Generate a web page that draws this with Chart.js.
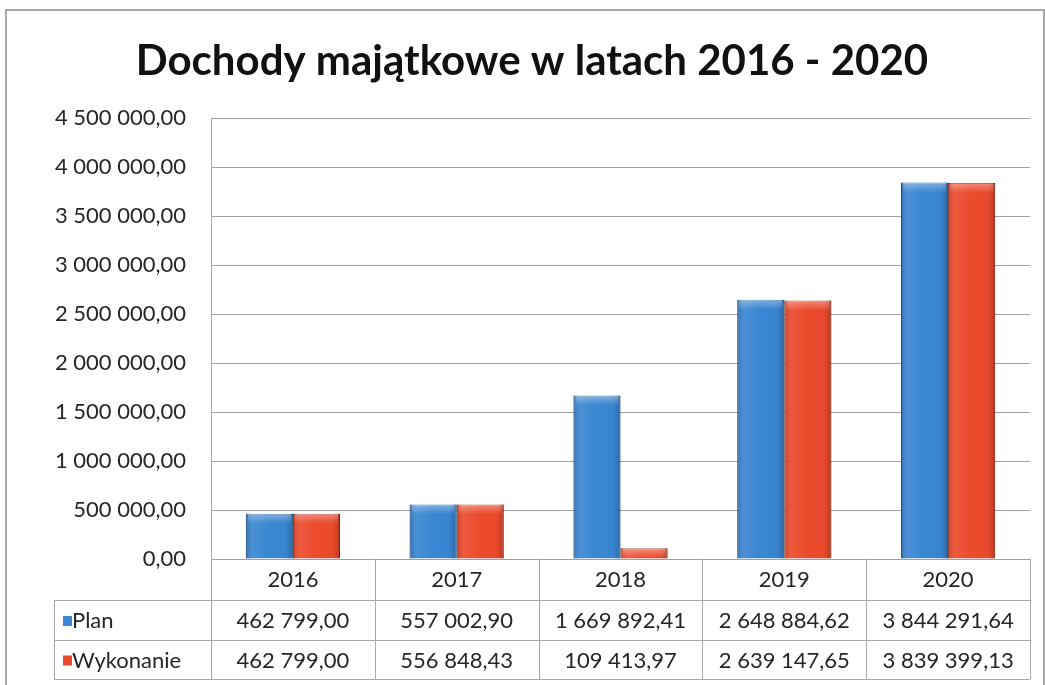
<!DOCTYPE html>
<html lang="pl">
<head>
    <meta charset="utf-8" />
    <title>Dochody majątkowe</title>
    <style>
        body {
            margin: 0;
            background: #fff;
        }
        #frame {
            position: absolute;
            left: 5px;
            top: 9px;
            width: 1040px;
            height: 690px;
            border: 2px solid #a8a8a8;
            box-sizing: border-box;
        }
        #wrap {
            position: absolute;
            left: 0;
            top: 0;
            width: 1045px;
            height: 685px;
        }
    </style>
</head>
<body>
    <div id="frame"></div>
    <div id="wrap">
        <canvas id="chart"></canvas>
    </div>
    <script src="https://cdn.jsdelivr.net/npm/chart.js"></script>
    <script>
        // data
        var years = ['2016', '2017', '2018', '2019', '2020'];
        var plan = [462799.00, 557002.90, 1669892.41, 2648884.62, 3844291.64];
        var wykonanie = [462799.00, 556848.43, 109413.97, 2639147.65, 3839399.13];
        var seriesNames = ['Plan', 'Wykonanie'];
        var seriesColors = ['#3a86d2', '#ec4a2c'];
        var seriesBorders = ['#1f5c98', '#9c2a16'];

        var FONT = 'Lato, "Open Sans", sans-serif';
        var TEXT = '#262626';
        var LINE = '#a9a9a9';

        // polish number format: 1 669 892,41
        function plNum(v) {
            var parts = v.toFixed(2).split('.');
            var int = parts[0].replace(/\B(?=(\d{3})+(?!\d))/g, ' ');
            return int + ',' + parts[1];
        }

        // draws the data table under the x axis
        var tablePlugin = {
            id: 'dataTable',
            afterDraw: function (chart) {
                var ctx = chart.ctx;
                var x = chart.scales.x;
                var area = chart.chartArea;
                var top = area.bottom;
                var r1 = top + 41;        // top of Plan row
                var r2 = r1 + 40;         // top of Wykonanie row
                var r3 = r2 + 39;         // bottom
                var tableLeft = 54;
                var step = (area.right - area.left) / years.length;

                ctx.save();
                ctx.strokeStyle = LINE;
                ctx.lineWidth = 1;
                ctx.beginPath();
                // vertical lines
                for (var i = 0; i <= years.length; i++) {
                    var vx = Math.round(area.left + i * step) + 0.5;
                    ctx.moveTo(vx, top);
                    ctx.lineTo(vx, r3);
                }
                ctx.moveTo(tableLeft + 0.5, r1);
                ctx.lineTo(tableLeft + 0.5, r3);
                // horizontal lines
                [r1, r2, r3].forEach(function (y) {
                    ctx.moveTo(tableLeft, Math.round(y) + 0.5);
                    ctx.lineTo(area.right, Math.round(y) + 0.5);
                });
                ctx.stroke();

                var datasets = [plan, wykonanie];
                var rows = [[r1, r2], [r2, r3]];
                ctx.font = '22px ' + FONT;
                ctx.textBaseline = 'middle';
                for (var s = 0; s < datasets.length; s++) {
                    var cy = (rows[s][0] + rows[s][1]) / 2 + 1;
                    // legend key
                    ctx.fillStyle = seriesColors[s];
                    ctx.fillRect(tableLeft + 9, cy - 5, 9, 10);
                    ctx.fillStyle = TEXT;
                    ctx.textAlign = 'left';
                    ctx.fillText(seriesNames[s], tableLeft + 18, cy);
                    ctx.textAlign = 'center';
                    for (var j = 0; j < years.length; j++) {
                        ctx.fillText(plNum(datasets[s][j]), x.getPixelForValue(j), cy);
                    }
                }
                ctx.restore();
            }
        };

        // soft 3d shading on every bar
        var shadePlugin = {
            id: 'barShade',
            afterDatasetsDraw: function (chart) {
                var ctx = chart.ctx;
                chart.data.datasets.forEach(function (ds, di) {
                    chart.getDatasetMeta(di).data.forEach(function (bar) {
                        var p = bar.getProps(['x', 'y', 'base', 'width'], true);
                        var l = p.x - p.width / 2;
                        var h = p.base - p.y;
                        var g = ctx.createLinearGradient(l, 0, l + p.width, 0);
                        g.addColorStop(0, 'rgba(0,0,0,0.18)');
                        g.addColorStop(0.15, 'rgba(255,255,255,0.08)');
                        g.addColorStop(0.5, 'rgba(255,255,255,0)');
                        g.addColorStop(0.85, 'rgba(0,0,0,0.02)');
                        g.addColorStop(1, 'rgba(0,0,0,0.22)');
                        ctx.save();
                        ctx.fillStyle = g;
                        ctx.fillRect(l, p.y, p.width, h);
                        var t = ctx.createLinearGradient(0, p.y, 0, p.y + Math.min(10, h));
                        t.addColorStop(0, 'rgba(255,255,255,0.35)');
                        t.addColorStop(1, 'rgba(255,255,255,0)');
                        ctx.fillStyle = t;
                        ctx.fillRect(l + 2, p.y, p.width - 4, Math.min(10, h));
                        ctx.restore();
                    });
                });
            }
        };

        var ctx = document.getElementById('chart').getContext('2d');
        var myChart = new Chart(ctx, {
            type: 'bar',
            data: {
                labels: years,
                datasets: [{
                    label: seriesNames[0],
                    data: plan,
                    backgroundColor: seriesColors[0],
                    borderColor: seriesBorders[0],
                    borderWidth: 1
                }, {
                    label: seriesNames[1],
                    data: wykonanie,
                    backgroundColor: seriesColors[1],
                    borderColor: seriesBorders[1],
                    borderWidth: 1
                }]
            },
            options: {
                responsive: true,
                maintainAspectRatio: false,
                animation: false,
                layout: {
                    // left padding keeps the title centred like the original
                    padding: { left: 34, right: 15, top: 12, bottom: 6 }
                },
                datasets: {
                    bar: { categoryPercentage: 0.575, barPercentage: 1.0 }
                },
                plugins: {
                    legend: { display: false },
                    tooltip: { enabled: false },
                    title: {
                        display: true,
                        text: 'Dochody majątkowe w latach 2016 - 2020',
                        color: '#111',
                        font: { family: FONT, size: 42, weight: 'bold' },
                        padding: { top: 24, bottom: 32 }
                    }
                },
                scales: {
                    x: {
                        grid: { display: false },
                        border: { display: false },
                        ticks: {
                            color: TEXT,
                            font: { family: FONT, size: 22 },
                            padding: 0
                        },
                        afterFit: function (scale) {
                            scale.height = 120;
                        }
                    },
                    y: {
                        min: 0,
                        max: 4500000,
                        grid: { color: '#a0a0a0', drawTicks: false },
                        border: { color: LINE },
                        ticks: {
                            stepSize: 500000,
                            color: TEXT,
                            font: { family: FONT, size: 22 },
                            padding: 25,
                            callback: function (v) { return plNum(v); }
                        },
                        afterFit: function (scale) {
                            scale.width = 177;
                        }
                    }
                }
            },
            plugins: [shadePlugin, tablePlugin]
        });
    </script>
</body>
</html>
